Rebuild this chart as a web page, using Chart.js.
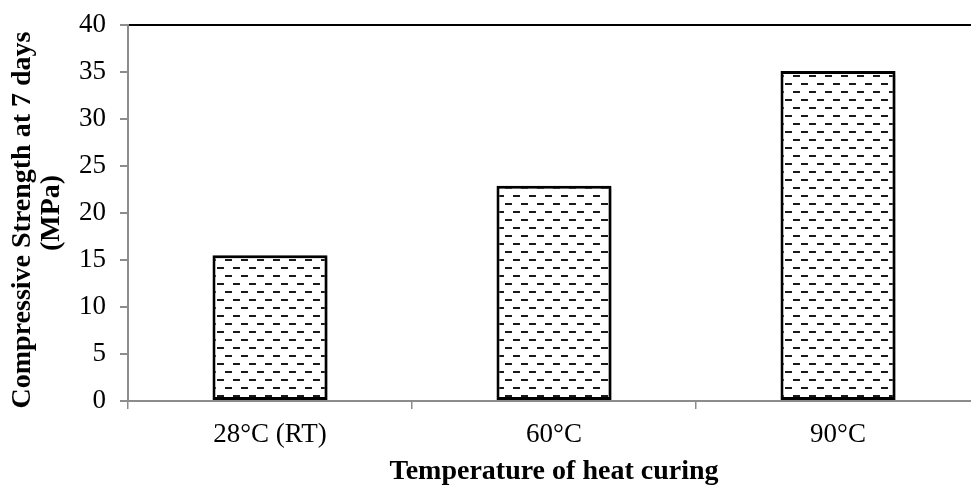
<!DOCTYPE html>
<html>
<head>
<meta charset="utf-8">
<script src="https://cdn.jsdelivr.net/npm/chart.js@4.4.1/dist/chart.umd.min.js"></script>
<style>
html,body{margin:0;padding:0;background:#fff;overflow:hidden;}
#wrap{position:relative;width:985px;height:486px;}
</style>
</head>
<body>
<div id="wrap"><canvas id="c"></canvas></div>
<script>
const categories = ['28°C (RT)', '60°C', '90°C'];
const strengthValues = [15.5, 22.9, 35.1];
const yTitleLines = ['Compressive Strength at 7 days  ', '(MPa)'];
const xTitle = 'Temperature of heat curing';
const yMin = 0, yMax = 40, yStep = 5;

function makePattern() {
  const t = document.createElement('canvas');
  t.width = 16; t.height = 16;
  const g = t.getContext('2d');
  g.fillStyle = '#ffffff';
  g.fillRect(0, 0, 16, 16);
  g.fillStyle = '#1a1a1a';
  g.fillRect(1, 3, 7, 2);
  g.fillRect(9, 11, 7, 2);
  return g.createPattern(t, 'repeat');
}
const ctx = document.getElementById('c').getContext('2d');
const pattern = makePattern();

const shadowPlugin = {
  id: 'barShadow',
  beforeDatasetsDraw(chart) {
    const c = chart.ctx;
    c.save();
    c.shadowColor = 'rgba(0,0,0,0.35)';
    c.shadowOffsetX = 3;
    c.shadowOffsetY = 2;
    c.shadowBlur = 4;
  },
  afterDatasetsDraw(chart) {
    chart.ctx.restore();
  }
};

new Chart(ctx, {
  type: 'bar',
  data: {
    labels: categories,
    datasets: [{
      data: strengthValues,
      backgroundColor: pattern,
      borderColor: '#000000',
      borderWidth: 3,
      borderSkipped: false,
      barPercentage: 0.405,
      categoryPercentage: 1.0
    }]
  },
  options: {
    responsive: true,
    maintainAspectRatio: false,
    animation: false,
    devicePixelRatio: 1,
    layout: { padding: { top: 25, right: 5, left: 0, bottom: 0 } },
    plugins: { legend: { display: false }, tooltip: { enabled: false } },
    scales: {
      x: {
        grid: { display: true, drawOnChartArea: false, offset: true, color: '#8c8c8c', tickLength: 8, lineWidth: 1.5 },
        border: { display: true, color: '#8c8c8c', width: 2 },
        ticks: { color: '#000', font: { family: 'Liberation Serif', size: 27 }, padding: 10, maxRotation: 0 },
        title: { display: true, text: xTitle, color: '#000', font: { family: 'Liberation Serif', size: 28, weight: 'bold', lineHeight: 1.0 }, padding: { top: 0, bottom: 0 } },
        afterFit(scale) { scale.height = 85; }
      },
      y: {
        min: yMin, max: yMax,
        grid: {
          drawOnChartArea: true,
          color: (c) => (c.tick && c.tick.value === yMax) ? '#000000' : 'rgba(0,0,0,0)',
          tickColor: '#8c8c8c',
          tickLength: 8,
          lineWidth: 2
        },
        border: { display: true, color: '#8c8c8c', width: 2 },
        ticks: { stepSize: yStep, color: '#000', font: { family: 'Liberation Serif', size: 27, lineHeight: 0.8 }, padding: 14 },
        title: { display: true, text: yTitleLines, color: '#000', font: { family: 'Liberation Serif', size: 28, weight: 'bold', lineHeight: 1.05 }, padding: { top: 8, bottom: 0 } },
        afterFit(scale) { scale.width = 128; }
      }
    }
  },
  plugins: [shadowPlugin]
});
</script>
</body>
</html>
